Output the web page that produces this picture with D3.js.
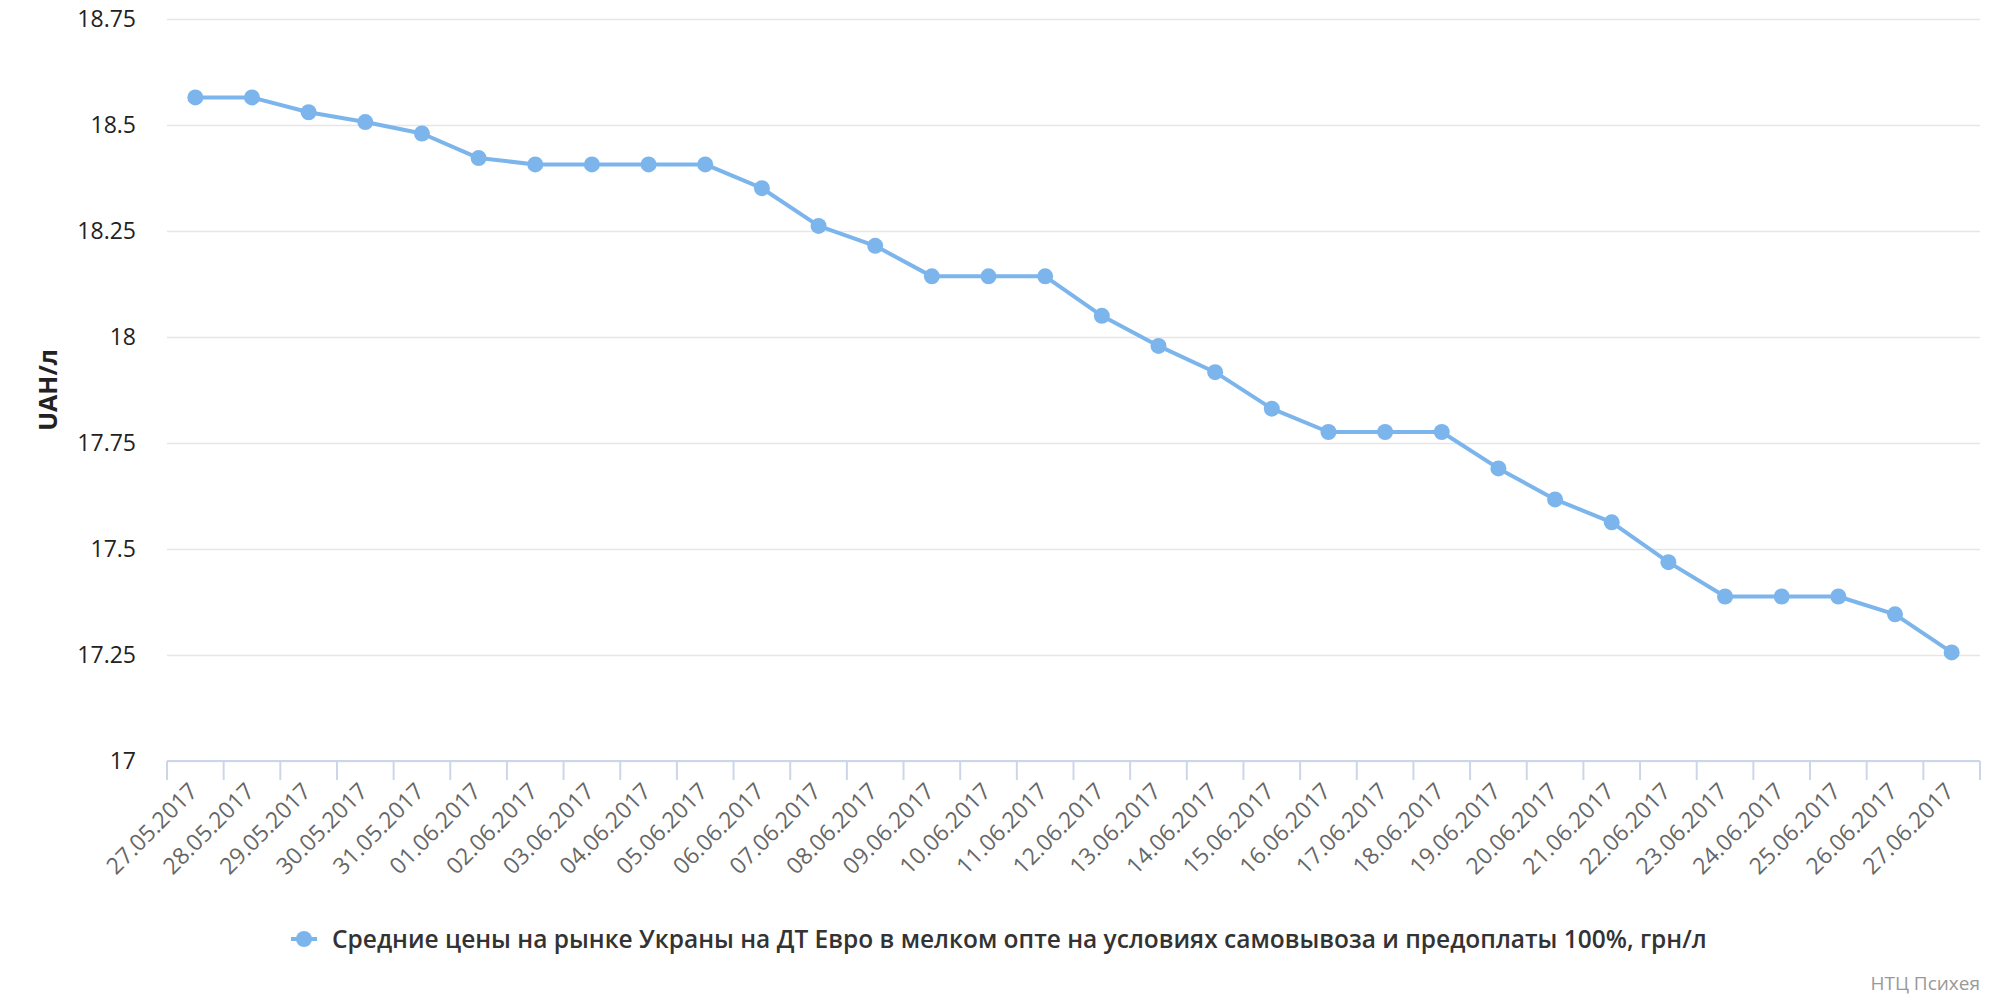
<!DOCTYPE html>
<html><head><meta charset="utf-8">
<script src="https://cdn.jsdelivr.net/npm/d3@7"></script>
<style>
html,body{margin:0;padding:0;background:#fff;}
svg{display:block;}
svg text{font-family:"Open Sans",sans-serif;}
</style></head>
<body>
<svg id="chart" width="2000" height="1000"></svg>
<script>
const categories = ["27.05.2017","28.05.2017","29.05.2017","30.05.2017","31.05.2017","01.06.2017","02.06.2017","03.06.2017","04.06.2017","05.06.2017","06.06.2017","07.06.2017","08.06.2017","09.06.2017","10.06.2017","11.06.2017","12.06.2017","13.06.2017","14.06.2017","15.06.2017","16.06.2017","17.06.2017","18.06.2017","19.06.2017","20.06.2017","21.06.2017","22.06.2017","23.06.2017","24.06.2017","25.06.2017","26.06.2017","27.06.2017"];
const prices = [18.565,18.565,18.53,18.507,18.48,18.422,18.407,18.407,18.407,18.407,18.351,18.262,18.215,18.143,18.143,18.143,18.05,17.979,17.917,17.831,17.776,17.776,17.776,17.69,17.617,17.563,17.469,17.388,17.388,17.388,17.346,17.256];
const yTicks = [17,17.25,17.5,17.75,18,18.25,18.5,18.75];
const yTickLabels = ["17","17.25","17.5","17.75","18","18.25","18.5","18.75"];
const seriesName = "Средние цены на рынке Украны на ДТ Евро в мелком опте на условиях самовывоза и предоплаты 100%, грн/л";
const yTitle = "UAH/л";
const creditText = "НТЦ Психея";

const color = "#7cb5ec";
const pLeft = 167, pRight = 1980, pTop = 19, pBottom = 761;
const svg = d3.select("#chart");

const x = d3.scaleBand().domain(categories).range([pLeft, pRight]);
const y = d3.scaleLinear().domain([17, 18.75]).range([pBottom, pTop]);

// grid
const yAxis = d3.axisLeft(y).tickValues(yTicks).tickSize(-(pRight-pLeft)).tickFormat((d,i)=>yTickLabels[i]);
const gy = svg.append("g").attr("transform",`translate(${pLeft},0)`).call(yAxis)
  .attr("font-family",null).attr("font-size",null);
gy.select(".domain").remove();
gy.selectAll(".tick line").attr("stroke","#e6e6e6").attr("stroke-width",1.5);
gy.selectAll(".tick text").attr("x",-31).attr("fill","#222").style("font-size","23px");

// x axis
const xAxis = d3.axisBottom(x).tickSize(0).tickSizeOuter(0);
const gx = svg.append("g").attr("transform",`translate(0,${pBottom})`).call(xAxis)
  .attr("font-family",null).attr("font-size",null);
gx.select(".domain").attr("stroke","#ccd6eb").attr("stroke-width",2).attr("d",`M${pLeft},0H${pRight}`);
gx.selectAll(".tick text")
  .attr("fill","#666").style("font-size","23px")
  .attr("text-anchor","end")
  .attr("transform","translate(-2,26) rotate(-45)")
  .attr("y",0).attr("dy","0.35em");
// band-boundary ticks
const bounds = categories.map(c=>x(c)).concat([pRight]);
svg.append("g").selectAll("line").data(bounds).join("line")
  .attr("x1",d=>d).attr("x2",d=>d).attr("y1",pBottom).attr("y2",pBottom+19)
  .attr("stroke","#ccd6eb").attr("stroke-width",2);

// line
const cx = (c)=>x(c)+x.bandwidth()/2;
const line = d3.line().x((d,i)=>cx(categories[i])).y(d=>y(d));
svg.append("path").datum(prices).attr("d",line).attr("fill","none")
  .attr("stroke",color).attr("stroke-width",4).attr("stroke-linejoin","round");
svg.append("g").selectAll("circle").data(prices).join("circle")
  .attr("cx",(d,i)=>cx(categories[i])).attr("cy",d=>y(d)).attr("r",8).attr("fill",color);

// y title
svg.append("text").attr("transform",`translate(48,${(pTop+pBottom)/2}) rotate(-90)`)
  .attr("text-anchor","middle").attr("dy","0.35em")
  .style("font-size","25px").style("font-weight","bold").attr("fill","#222").text(yTitle);

// legend
const lg = svg.append("g").attr("transform","translate(0,939)");
lg.append("line").attr("x1",291).attr("x2",317).attr("y1",0).attr("y2",0).attr("stroke",color).attr("stroke-width",4);
lg.append("circle").attr("cx",304).attr("cy",0).attr("r",8).attr("fill",color);
lg.append("text").attr("x",332).attr("y",0).attr("dy","0.35em")
  .style("font-size","24.5px").style("font-weight","600").attr("fill","#333").text(seriesName);

// credits
svg.append("text").attr("x",1980).attr("y",983).attr("text-anchor","end").attr("dy","0.35em")
  .style("font-size","19px").attr("fill","#999").text(creditText);
</script>
</body></html>
